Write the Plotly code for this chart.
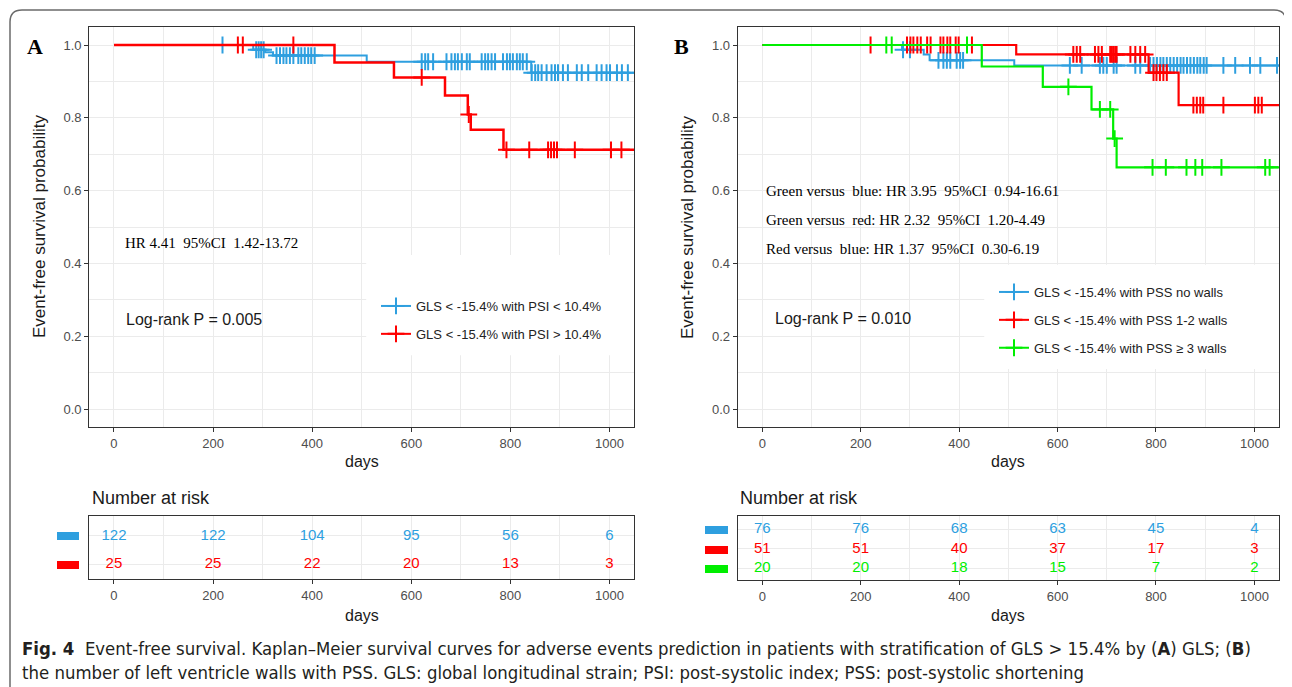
import numpy as np
import plotly.graph_objects as go

# ---------------- data ----------------
risk_times = [0, 200, 400, 600, 800, 1000]

# Panel A
A_blue_name = "GLS < -15.4% with PSI < 10.4%"
A_red_name = "GLS < -15.4% with PSI > 10.4%"
A_blue_time = [0, 281, 305, 321, 510, 842, 1060]
A_blue_surv = [1.0, 0.987, 0.980, 0.971, 0.954, 0.924, 0.924]
A_blue_cens = [219, 287, 292, 297, 302, 328, 335, 342, 348, 355, 362, 372, 378, 385, 392,
               398, 405, 621, 628, 634, 644, 671, 681, 688, 694, 702, 712, 718, 742, 749,
               755, 762, 769, 785, 793, 799, 805, 813, 819, 825, 833, 843, 850, 856, 863,
               873, 883, 890, 896, 906, 916, 934, 944, 957, 974, 984, 994, 1001, 1015,
               1025, 1037]
A_red_time = [0, 445, 565, 668, 714, 720, 786, 1060]
A_red_surv = [1.0, 0.952, 0.911, 0.861, 0.809, 0.767, 0.712, 0.712]
A_red_cens = [250, 260, 362, 621, 716, 792, 838, 876, 882, 888, 894, 930, 1003, 1024]
A_risk_blue = [122, 122, 104, 95, 56, 6]
A_risk_red = [25, 25, 22, 20, 13, 3]

# Panel B
B_blue_name = "GLS < -15.4% with PSS no walls"
B_red_name = "GLS < -15.4% with PSS 1-2 walls"
B_green_name = "GLS < -15.4% with PSS \u2265 3 walls"
B_blue_time = [0, 284, 328, 340, 512, 1060]
B_blue_surv = [1.0, 0.987, 0.974, 0.958, 0.944, 0.944]
B_blue_cens = [286, 300, 358, 368, 375, 382, 395, 402, 408, 625, 649, 686, 693, 700, 714,
               720, 758, 768, 788, 795, 802, 809, 815, 822, 829, 836, 843, 850, 856, 863,
               870, 877, 884, 890, 897, 903, 937, 961, 991, 1012, 1046]
B_red_time = [0, 516, 785, 846, 1060]
B_red_surv = [1.0, 0.974, 0.924, 0.835, 0.835]
B_red_cens = [220, 294, 301, 307, 315, 322, 335, 342, 362, 368, 376, 382, 393, 399, 426,
              632, 639, 646, 676, 683, 690, 707, 710, 713, 717, 720, 748, 758, 768, 778,
              795, 801, 808, 815, 822, 876, 883, 890, 896, 937, 1001, 1008, 1015]
B_green_time = [0, 446, 570, 669, 713, 720, 1060]
B_green_surv = [1.0, 0.941, 0.885, 0.823, 0.743, 0.664, 0.664]
B_green_cens = [252, 263, 416, 622, 686, 707, 716, 793, 820, 862, 880, 894, 933, 1022, 1031]
B_risk_blue = [76, 76, 68, 63, 45, 4]
B_risk_red = [51, 51, 40, 37, 17, 3]
B_risk_green = [20, 20, 18, 15, 7, 2]

A_hr_text = "HR 4.41  95%CI  1.42-13.72"
A_p_text = "Log-rank P = 0.005"
B_hr_texts = ["Green versus  blue: HR 3.95  95%CI  0.94-16.61",
              "Green versus  red: HR 2.32  95%CI  1.20-4.49",
              "Red versus  blue: HR 1.37  95%CI  0.30-6.19"]
B_p_text = "Log-rank P = 0.010"
caption1 = ("<b>Fig. 4</b>  Event-free survival. Kaplan\u2013Meier survival curves for adverse events "
            "prediction in patients with stratification of GLS &gt; 15.4% by (<b>A</b>) GLS; (<b>B</b>)")
caption2 = ("the number of left ventricle walls with PSS. GLS: global longitudinal strain; "
            "PSI: post-systolic index; PSS: post-systolic shortening")

# ---------------- style ----------------
OFF = 8                      # page body margin of the html page
W, H = 1292 - OFF, 687 - OFF
BLUE = "#2E9FDF"
RED = "#FF0000"
GREEN = "#00EE00"
GRID = "#EBEBEB"
SANS = "Liberation Sans, Arial, sans-serif"
SERIF = "Liberation Serif, Times New Roman, serif"
NARROW = "Liberation Sans Narrow, Arial Narrow, DejaVu Sans Condensed, sans-serif"


def fx(p):
    return (p - OFF) / W


def fy(p):
    return 1 - (p - OFF) / H


fig = go.Figure()


def km(times, surv, cens, color, xa, ya, lw):
    fig.add_trace(go.Scatter(x=times, y=surv, mode="lines",
                             line=dict(color=color, width=lw, shape="hv"),
                             xaxis=xa, yaxis=ya, showlegend=False, hoverinfo="skip"))
    t = np.array(times)
    idx = np.searchsorted(t, np.array(cens), side="right") - 1
    cs = np.array(surv)[idx]
    fig.add_trace(go.Scatter(x=cens, y=cs, mode="markers",
                             marker=dict(symbol="cross-thin", size=12,
                                         line=dict(color=color, width=2)),
                             xaxis=xa, yaxis=ya, showlegend=False, hoverinfo="skip"))


def legend_entry(name, color, legend, group):
    fig.add_trace(go.Scatter(x=[None], y=[None], mode="lines+markers", name=name,
                             line=dict(color=color, width=2),
                             marker=dict(symbol="cross-thin", size=12,
                                         line=dict(color=color, width=2)),
                             legend=legend, legendgroup=group, showlegend=True))


km(A_blue_time, A_blue_surv, A_blue_cens, BLUE, "x", "y", 2)
km(A_red_time, A_red_surv, A_red_cens, RED, "x", "y", 2.5)
km(B_blue_time, B_blue_surv, B_blue_cens, BLUE, "x2", "y2", 2)
km(B_red_time, B_red_surv, B_red_cens, RED, "x2", "y2", 2.2)
km(B_green_time, B_green_surv, B_green_cens, GREEN, "x2", "y2", 2.2)

legend_entry(A_blue_name, BLUE, "legend", "a1")
legend_entry(A_red_name, RED, "legend", "a2")
legend_entry(B_blue_name, BLUE, "legend2", "b1")
legend_entry(B_red_name, RED, "legend2", "b2")
legend_entry(B_green_name, GREEN, "legend2", "b3")


def risk_row(vals, row, color, xa, ya):
    fig.add_trace(go.Scatter(x=risk_times, y=[row] * len(vals), mode="text",
                             text=[str(v) for v in vals],
                             textfont=dict(color=color, size=15, family=SANS),
                             xaxis=xa, yaxis=ya, showlegend=False, hoverinfo="skip"))


risk_row(A_risk_blue, 2, BLUE, "x3", "y3")
risk_row(A_risk_red, 1, RED, "x3", "y3")
risk_row(B_risk_blue, 3, BLUE, "x4", "y4")
risk_row(B_risk_red, 2, RED, "x4", "y4")
risk_row(B_risk_green, 1, GREEN, "x4", "y4")

# ---------------- axes ----------------
A_x = [fx(89.2), fx(634.3)]
B_x = [fx(737.7), fx(1279)]
MAIN_Y = [fy(427.2), fy(26.8)]


def xax(domain, anchor):
    return dict(domain=domain, anchor=anchor, range=[-50, 1050], tickmode="linear",
                tick0=0, dtick=200, showgrid=True, gridcolor=GRID, gridwidth=1,
                minor=dict(dtick=100, tick0=0, showgrid=True, gridcolor=GRID, gridwidth=1,
                           ticklen=0),
                showline=True, mirror=True, linecolor="#333333", linewidth=1,
                ticks="outside", ticklen=4, tickcolor="#333333",
                tickfont=dict(size=13, family=SANS, color="#4D4D4D"), zeroline=False)


def yax_main(domain, anchor):
    return dict(domain=domain, anchor=anchor, range=[-0.05, 1.05], tickmode="linear",
                tick0=0, dtick=0.2, tickformat=".1f", showgrid=True, gridcolor=GRID,
                minor=dict(dtick=0.1, tick0=0, showgrid=True, gridcolor=GRID, ticklen=0),
                showline=True, mirror=True, linecolor="#333333", linewidth=1,
                ticks="outside", ticklen=4, tickcolor="#333333",
                tickfont=dict(size=13, family=SANS, color="#4D4D4D"), zeroline=False)


def yax_risk(domain, anchor, n, rng):
    return dict(domain=domain, anchor=anchor, range=rng, tickmode="array",
                tickvals=list(range(1, n + 1)), showticklabels=False, showgrid=True,
                gridcolor=GRID, showline=True, mirror=True, linecolor="#333333",
                linewidth=1, ticks="", zeroline=False)


fig.update_layout(
    width=W, height=H, margin=dict(l=0, r=0, t=0, b=0),
    paper_bgcolor="white", plot_bgcolor="white",
    xaxis=xax(A_x, "y"), yaxis=yax_main(MAIN_Y, "x"),
    xaxis2=xax(B_x, "y2"), yaxis2=yax_main(MAIN_Y, "x2"),
    xaxis3=xax(A_x, "y3"), yaxis3=yax_risk([fy(579), fy(516)], "x3", 2, [0.48, 2.7]),
    xaxis4=xax(B_x, "y4"), yaxis4=yax_risk([fy(580), fy(516)], "x4", 3, [0.4, 3.7]),
    legend=dict(x=fx(376), y=fy(291), xanchor="left", yanchor="top",
                bgcolor="rgba(0,0,0,0)", font=dict(size=13, family=SANS, color="#222"),
                tracegroupgap=8, itemwidth=30),
    legend2=dict(x=fx(994), y=fy(277), xanchor="left", yanchor="top",
                 bgcolor="rgba(0,0,0,0)", font=dict(size=13, family=SANS, color="#222"),
                 tracegroupgap=8, itemwidth=30),
)

# white legend background boxes (above grid, below curves)
shapes = [
    dict(type="rect", xref="x", yref="y", x0=509, x1=1050, y0=0.148, y1=0.423,
         fillcolor="white", line=dict(width=0), layer="between"),
    dict(type="rect", xref="x2", yref="y2", x0=451, x1=1050, y0=0.11, y1=0.396,
         fillcolor="white", line=dict(width=0), layer="between"),
]

# colour keys of the risk tables
for yc, c in [(536, BLUE), (565, RED)]:
    shapes.append(dict(type="rect", xref="paper", yref="paper", x0=fx(57), x1=fx(79),
                       y0=fy(yc + 4), y1=fy(yc - 4), fillcolor=c, line=dict(width=0)))
for yc, c in [(530, BLUE), (550, RED), (569, GREEN)]:
    shapes.append(dict(type="rect", xref="paper", yref="paper", x0=fx(705), x1=fx(728),
                       y0=fy(yc + 4), y1=fy(yc - 4), fillcolor=c, line=dict(width=0)))

# outer rounded frame
L, R, T, B, r = 10, 1286, 10, 700, 12
path = (f"M {fx(L)},{fy(B)} L {fx(L)},{fy(T + r)} Q {fx(L)},{fy(T)} {fx(L + r)},{fy(T)} "
        f"L {fx(R - r)},{fy(T)} Q {fx(R)},{fy(T)} {fx(R)},{fy(T + r)} L {fx(R)},{fy(B)}")
shapes.append(dict(type="path", xref="paper", yref="paper", path=path,
                   line=dict(color="#6B6B6B", width=1.5)))
fig.update_layout(shapes=shapes)

# ---------------- annotations ----------------
ann = []


def text(x, y, s, size, family=SANS, color="#1A1A1A", xanchor="center", angle=0):
    ann.append(dict(x=fx(x), y=fy(y), xref="paper", yref="paper", text=s, showarrow=False,
                    xanchor=xanchor, yanchor="middle", textangle=angle,
                    font=dict(size=size, family=family, color=color)))


text(35, 46, "<b>A</b>", 22, SERIF, "#000")
text(681, 46, "<b>B</b>", 22, SERIF, "#000")
text(40, 227, "Event-free survival probability", 17, angle=-90)
text(688, 227, "Event-free survival probability", 17, angle=-90)
text(362, 462, "days", 16)
text(1008, 462, "days", 16)
text(90, 498, "Number at risk", 18, xanchor="left")
text(738, 498, "Number at risk", 18, xanchor="left")
text(362, 615, "days", 16)
text(1008, 615, "days", 16)
text(123, 243, A_hr_text, 15, SERIF, "#000", xanchor="left")
text(124, 320, A_p_text, 16, xanchor="left")
for i, s in enumerate(B_hr_texts):
    text(764, 191 + 29 * i, s, 15, SERIF, "#000", xanchor="left")
text(773, 319, B_p_text, 16, xanchor="left")
text(20, 648, caption1, 18.4, NARROW, "#231F20", xanchor="left")
text(20, 672, caption2, 18.4, NARROW, "#231F20", xanchor="left")
fig.update_layout(annotations=ann)

fig.write_html("out.html")
